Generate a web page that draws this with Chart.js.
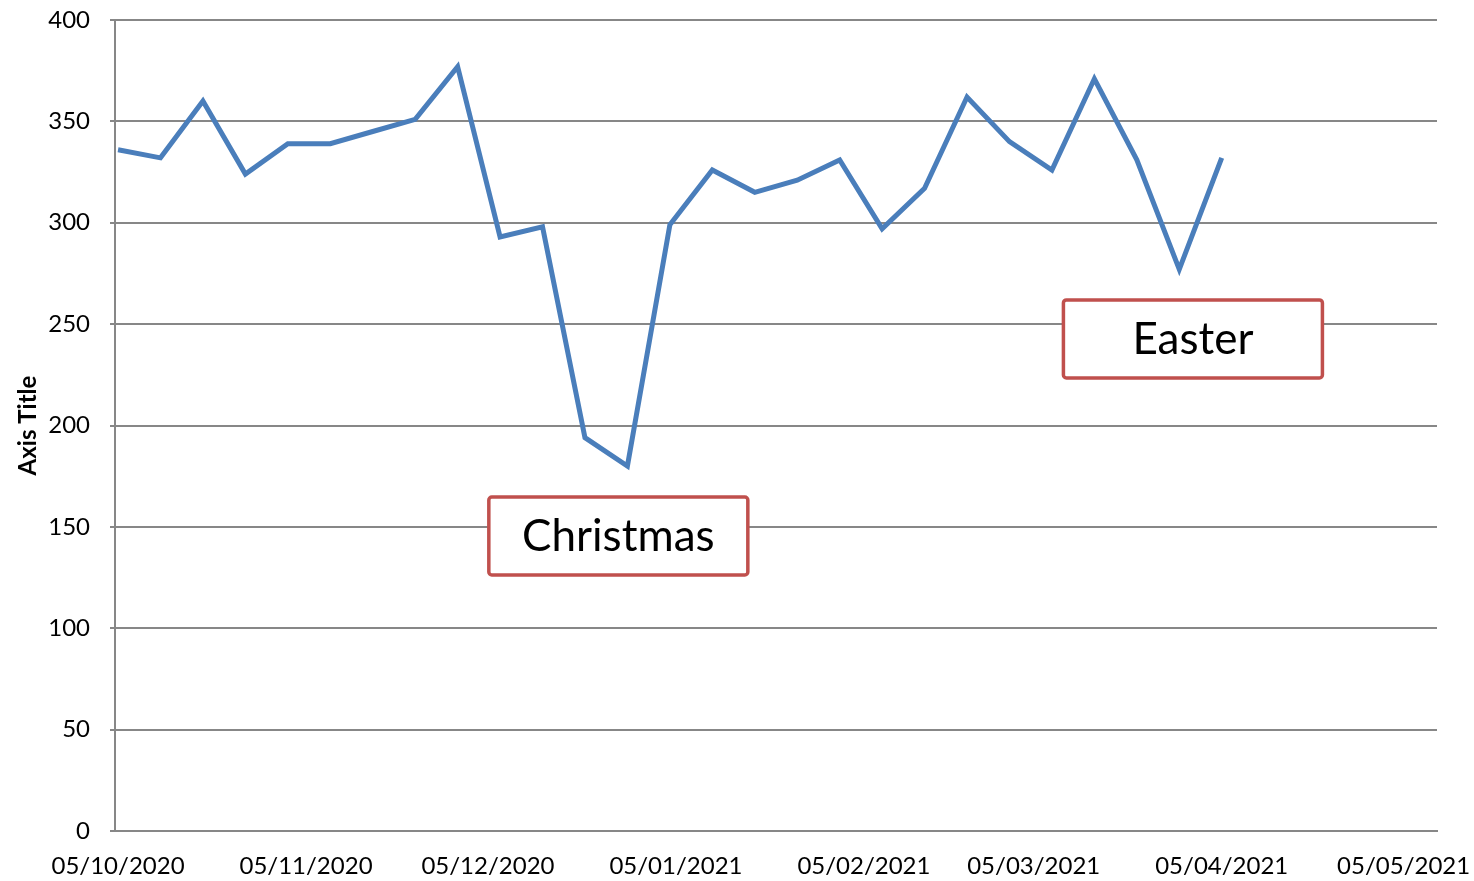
<!DOCTYPE html>
<html>
<head>
<meta charset="utf-8">
<script src="https://cdn.jsdelivr.net/npm/chart.js@4.4.1/dist/chart.umd.min.js"></script>
<style>
  html, body { margin: 0; padding: 0; background: #fff; }
</style>
</head>
<body>
<canvas id="chart" width="1474" height="881"></canvas>
<script>
// weekly readings (Mondays)
const weekStarts = [
  '2020-10-05', '2020-10-12', '2020-10-19', '2020-10-26', '2020-11-02', '2020-11-09',
  '2020-11-16', '2020-11-23', '2020-11-30', '2020-12-07', '2020-12-14', '2020-12-21',
  '2020-12-28', '2021-01-04', '2021-01-11', '2021-01-18', '2021-01-25', '2021-02-01',
  '2021-02-08', '2021-02-15', '2021-02-22', '2021-03-01', '2021-03-08', '2021-03-15',
  '2021-03-22', '2021-03-29', '2021-04-05'
];
const values = [
  336, 332, 360, 324, 339, 339,
  345, 351, 377, 293, 298, 194,
  180, 299, 326, 315, 321, 331,
  297, 317, 362, 340, 326, 371,
  331, 277, 332
];

// x axis ticks (dd/mm/yyyy)
const tickDates = ['2020-10-05', '2020-11-05', '2020-12-05', '2021-01-05',
                   '2021-02-05', '2021-03-05', '2021-04-05', '2021-05-05'];
const tickLabels = ['05/10/2020', '05/11/2020', '05/12/2020', '05/01/2021',
                    '05/02/2021', '05/03/2021', '05/04/2021', '05/05/2021'];
const axisStart = '2020-10-05';
const axisEnd = '2021-05-10';

// text callouts
const noteTexts = ['Christmas', 'Easter'];
const noteDates = ['2020-12-26T12:00Z', '2021-03-31T06:00Z'];
const noteValues = [145.5, 242.7];

const FONT = 'Lato, "Open Sans", "DejaVu Sans", sans-serif';
const GRID = '#878787';

function dayOf(s) {
  return (Date.parse(s) - Date.parse(axisStart)) / 86400000;
}

const points = weekStarts.map((d, i) => ({ x: dayOf(d), y: values[i] }));

// draws the boxed labels
const calloutPlugin = {
  id: 'callouts',
  afterDatasetsDraw(chart, args, opts) {
    const { ctx, scales: { x, y } } = chart;
    ctx.save();
    noteTexts.forEach((txt, i) => {
      const cx = x.getPixelForValue(dayOf(noteDates[i]));
      const cy = y.getPixelForValue(noteValues[i]);
      const w = opts.width, h = opts.height;
      ctx.beginPath();
      ctx.roundRect(cx - w / 2, cy - h / 2, w, h, 3);
      ctx.fillStyle = '#fff';
      ctx.fill();
      ctx.lineWidth = opts.borderWidth;
      ctx.strokeStyle = opts.borderColor;
      ctx.stroke();
      ctx.fillStyle = '#000';
      ctx.font = opts.font;
      ctx.textAlign = 'center';
      ctx.textBaseline = 'middle';
      ctx.fillText(txt, cx, cy + 1);
    });
    ctx.restore();
  }
};

const chart = new Chart(document.getElementById('chart'), {
  type: 'line',
  data: {
    datasets: [{
      data: points,
      borderColor: '#4a7ebb',
      borderWidth: 5,
      borderJoinStyle: 'miter',
      pointRadius: 0,
      tension: 0,
      fill: false
    }]
  },
  options: {
    responsive: false,
    animation: false,
    layout: { padding: { top: 20, right: 37, left: 0, bottom: 0 } },
    plugins: {
      legend: { display: false },
      tooltip: { enabled: false },
      callouts: {
        width: 259,
        height: 78,
        borderWidth: 3.5,
        borderColor: '#c0504d',
        font: '44px ' + FONT
      }
    },
    scales: {
      x: {
        type: 'linear',
        min: dayOf(axisStart) - 0.5,
        max: dayOf(axisEnd) + 0.5,
        grid: { display: false, drawTicks: false },
        border: { display: true, color: GRID, width: 2 },
        afterBuildTicks: s => { s.ticks = tickDates.map(d => ({ value: dayOf(d) })); },
        afterFit: s => { s.height = 50; s.paddingLeft = 0; s.paddingRight = 0; },
        ticks: {
          autoSkip: false,
          maxRotation: 0,
          padding: 21,
          color: '#000',
          font: { family: FONT, size: 24 },
          callback: (v, i) => tickLabels[i]
        }
      },
      y: {
        min: 0,
        max: 400,
        grid: { color: GRID, lineWidth: 2, tickLength: 5 },
        border: { display: true, color: GRID, width: 2 },
        afterFit: s => { s.width = 115; s.paddingTop = 0; s.paddingBottom = 0; },
        title: {
          display: true,
          text: 'Axis Title',
          color: '#000',
          font: { family: FONT, size: 24, weight: 'bold' },
          padding: { top: 14, bottom: 0 }
        },
        ticks: {
          stepSize: 50,
          padding: 20,
          color: '#000',
          font: { family: FONT, size: 24 }
        }
      }
    }
  },
  plugins: [calloutPlugin]
});
</script>
</body>
</html>
